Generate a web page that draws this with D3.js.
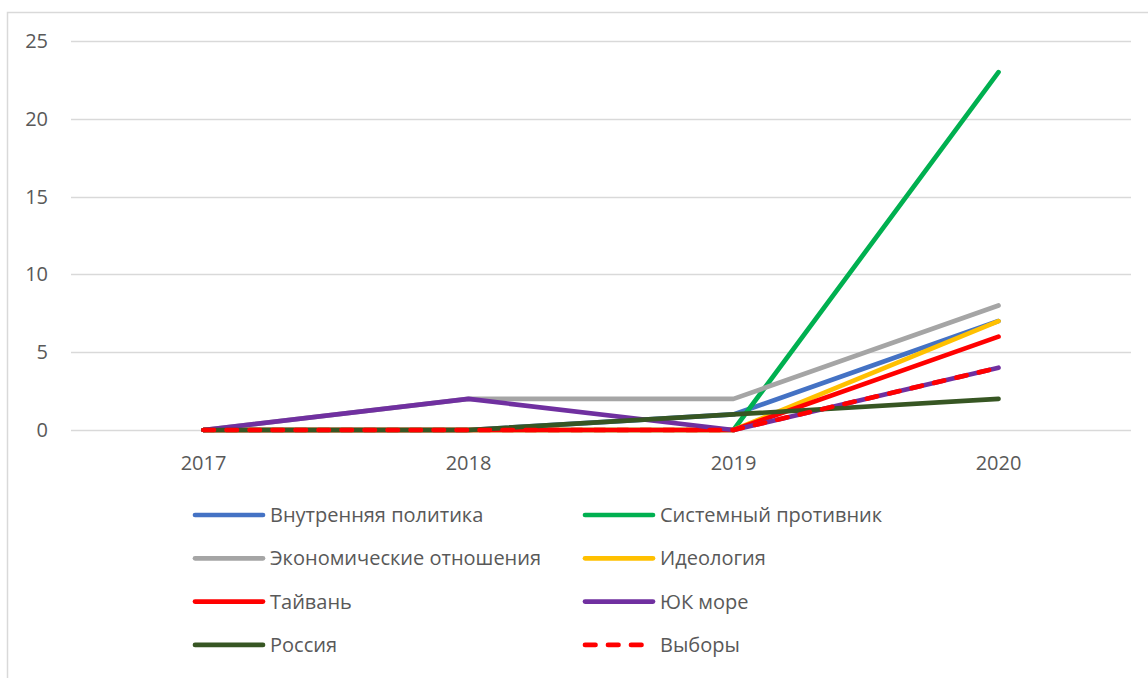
<!DOCTYPE html>
<html>
<head>
<meta charset="utf-8">
<script src="https://cdn.jsdelivr.net/npm/d3@7"></script>
<style>
	body { margin: 0; background: #fff; }
	text { font-family: "Open Sans", "Noto Sans", sans-serif; fill: #595959; }
</style>
</head>
<body>
<svg id="chart" width="1148" height="678"></svg>
<script>
const years = ['2017', '2018', '2019', '2020'];
const yTicks = [0, 5, 10, 15, 20, 25];

const seriesNames = [
	'Внутренняя политика', 'Системный противник',
	'Экономические отношения', 'Идеология',
	'Тайвань', 'ЮК море',
	'Россия', 'Выборы'
];
const seriesColors = ['#4472C4', '#00B050', '#A5A5A5', '#FFC000', '#FF0000', '#7030A0', '#375623', '#FF0000'];
const seriesDashed = [false, false, false, false, false, false, false, true];

const politics = [0, 0, 1, 7];
const rival = [0, 0, 0, 23];
const economy = [0, 2, 2, 8];
const ideology = [0, 0, 0, 7];
const taiwan = [0, 0, 0, 6];
const scs = [0, 2, 0, 4];
const russia = [0, 0, 1, 2];
const elections = [0, 0, 0, 4];

const seriesValues = [politics, rival, economy, ideology, taiwan, scs, russia, elections];

const svg = d3.select('#chart');

// chart area frame (cut off at right / bottom like the source)
svg.append('rect')
	.attr('x', 7.5).attr('y', 12.5)
	.attr('width', 1160).attr('height', 700)
	.attr('fill', 'none')
	.attr('stroke', '#D9D9D9')
	.attr('stroke-width', 1.5);

const plot = { left: 71, right: 1131, top: 41, bottom: 430 };

const x = d3.scaleBand().domain(years).range([plot.left, plot.right]);
const y = d3.scaleLinear().domain([0, 25]).range([plot.bottom, plot.top]);

// gridlines
svg.append('g')
	.selectAll('line')
	.data(yTicks)
	.enter().append('line')
		.attr('x1', plot.left).attr('x2', plot.right)
		.attr('y1', d => Math.round(y(d)) + 0.5)
		.attr('y2', d => Math.round(y(d)) + 0.5)
		.attr('stroke', '#D9D9D9')
		.attr('stroke-width', 1.3);

// y labels
svg.append('g')
	.selectAll('text')
	.data(yTicks)
	.enter().append('text')
		.attr('x', 48)
		.attr('y', d => y(d))
		.attr('dy', '0.35em')
		.attr('text-anchor', 'end')
		.attr('font-size', '20px')
		.text(d => d);

// x labels
svg.append('g')
	.selectAll('text')
	.data(years)
	.enter().append('text')
		.attr('x', d => x(d) + x.bandwidth() / 2)
		.attr('y', 463)
		.attr('dy', '0.35em')
		.attr('text-anchor', 'middle')
		.attr('font-size', '20px')
		.text(d => d);

const line = d3.line()
	.x((d, i) => x(years[i]) + x.bandwidth() / 2)
	.y(d => y(d));

svg.append('g')
	.selectAll('path')
	.data(seriesValues)
	.enter().append('path')
		.attr('d', d => line(d))
		.attr('fill', 'none')
		.attr('stroke', (d, i) => seriesColors[i])
		.attr('stroke-width', 4.7)
		.attr('stroke-linecap', 'round')
		.attr('stroke-linejoin', 'round')
		.attr('stroke-dasharray', (d, i) => seriesDashed[i] ? '10.5,12.5' : null);

// legend, two columns
const legend = svg.append('g')
	.selectAll('g')
	.data(seriesNames)
	.enter().append('g')
		.attr('transform', (d, i) => 'translate(' + (i % 2 === 0 ? 195 : 585) + ',' + (515 + Math.floor(i / 2) * 43.3) + ')');

legend.append('line')
	.attr('x1', 0).attr('x2', 68)
	.attr('stroke', (d, i) => seriesColors[i])
	.attr('stroke-width', 4.7)
	.attr('stroke-linecap', 'round')
	.attr('stroke-dasharray', (d, i) => seriesDashed[i] ? '10.5,12.5' : null);

legend.append('text')
	.attr('x', 75)
	.attr('dy', '0.35em')
	.attr('font-size', '20px')
	.text(d => d);
</script>
</body>
</html>
